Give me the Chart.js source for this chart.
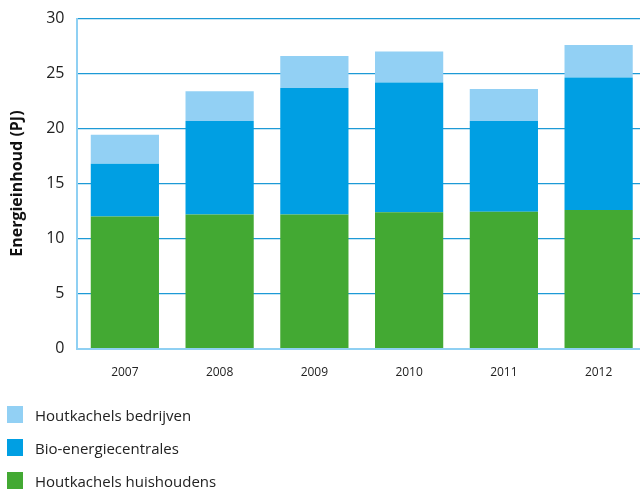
<!DOCTYPE html>
<html>
<head>
<meta charset="utf-8">
<script src="https://cdn.jsdelivr.net/npm/chart.js@4"></script>
<style>
  body { margin: 0; background: #fff; font-family: "Open Sans", sans-serif; }
  #wrap { position: relative; width: 640px; height: 490px; overflow: hidden; }
  #chart { position: absolute; left: 0; top: -4px; }
  #legend { position: absolute; left: 7px; top: 398px; }
  .item { display: flex; align-items: center; height: 33px; font-size: 15px; color: #222; }
  .sw { width: 16px; height: 17px; margin-right: 12px; }
</style>
</head>
<body>
<div id="wrap">
  <canvas id="chart" width="646" height="412"></canvas>
  <div id="legend"></div>
</div>
<script>
const years = ['2007', '2008', '2009', '2010', '2011', '2012']
const huishoudens = [12.0, 12.2, 12.2, 12.4, 12.45, 12.6]
const centrales = [4.8, 8.5, 11.5, 11.8, 8.25, 12.05]
const bedrijven = [2.65, 2.7, 2.9, 2.8, 2.9, 2.95]

const blueGrid = '#1d9ad6'
const lightAxis = '#8fd0f3'

const ctx = document.getElementById('chart')

const myChart = new Chart(ctx, {
  type: 'bar',
  data: {
    labels: years,
    datasets: [
      { label: 'Houtkachels huishoudens', data: huishoudens, backgroundColor: '#43a933' },
      { label: 'Bio-energiecentrales', data: centrales, backgroundColor: '#009fe3' },
      { label: 'Houtkachels bedrijven', data: bedrijven, backgroundColor: '#92d0f4' }
    ]
  },
  options: {
    responsive: false,
    animation: false,
    layout: { padding: { top: 2, bottom: 11, left: 4, right: 0 } },
    datasets: { bar: { categoryPercentage: 1, barPercentage: 0.72 } },
    plugins: { legend: { display: false }, tooltip: { enabled: false } },
    scales: {
      x: {
        stacked: true,
        grid: { display: false, drawTicks: false },
        border: { color: lightAxis, width: 2 },
        ticks: { color: '#222', padding: 17, font: { family: 'Open Sans', size: 12 } }
      },
      y: {
        stacked: true,
        min: 0,
        max: 30,
        ticks: { stepSize: 5, color: '#222', padding: 13, font: { family: 'Open Sans', size: 16 } },
        grid: {
          drawTicks: false,
          lineWidth: 1.3,
          color: (c) => c.tick && c.tick.value === 0 ? 'rgba(0,0,0,0)' : blueGrid
        },
        border: { color: lightAxis, width: 2 },
        title: {
          display: true,
          text: 'Energieinhoud (PJ)',
          color: '#111',
          padding: { top: 4, bottom: 6 },
          font: { family: 'Open Sans', size: 16, weight: 'bold' }
        }
      }
    }
  }
})

// legend, top to bottom as in the original
const legend = document.getElementById('legend')
myChart.data.datasets.slice().reverse().forEach((ds) => {
  const row = document.createElement('div')
  row.className = 'item'
  const sw = document.createElement('span')
  sw.className = 'sw'
  sw.style.background = ds.backgroundColor
  row.appendChild(sw)
  row.appendChild(document.createTextNode(ds.label))
  legend.appendChild(row)
})
</script>
</body>
</html>
